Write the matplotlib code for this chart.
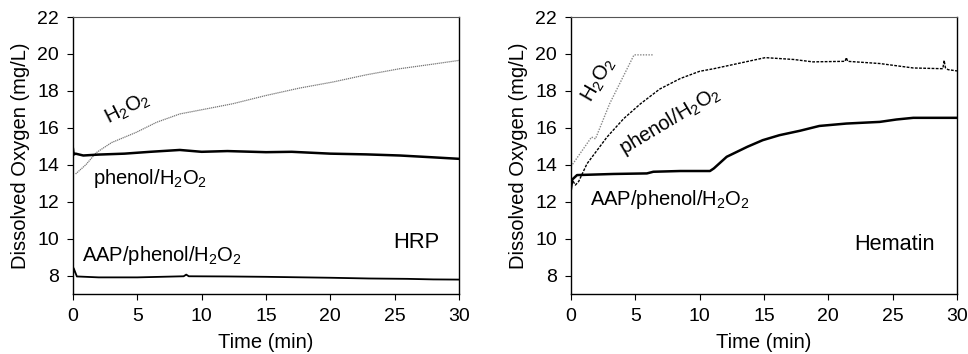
import matplotlib.pyplot as plt

plt.rcParams['font.family'] = ['Liberation Sans', 'DejaVu Sans']
plt.rcParams['mathtext.fontset'] = 'custom'
plt.rcParams['mathtext.rm'] = 'Liberation Sans'
plt.rcParams['mathtext.it'] = 'Liberation Sans'

# HRP panel
hrp_h2o2_t = [0.2, 1.0, 1.8, 3.0, 4.9, 6.5, 8.3, 9.8, 12.4, 15.0, 17.6, 20.2, 22.8, 25.4, 28.0, 30.0]
hrp_h2o2_y = [13.5, 14.0, 14.65, 15.2, 15.75, 16.3, 16.75, 16.95, 17.3, 17.75, 18.15, 18.48, 18.87, 19.2, 19.45, 19.65]

hrp_phenol_t = [0.0, 0.05, 0.2, 0.8, 2.0, 4.0, 6.0, 8.3, 10.0, 12.0, 15.0, 17.0, 20.0, 22.8, 25.4, 28.0, 30.0]
hrp_phenol_y = [14.85, 14.55, 14.6, 14.5, 14.55, 14.6, 14.7, 14.8, 14.7, 14.74, 14.68, 14.7, 14.6, 14.56, 14.5, 14.4, 14.32]

hrp_aap_t = [0.0, 0.05, 0.3, 2.0, 5.0, 8.6, 8.8, 9.0, 12.0, 15.0, 18.0, 20.0, 23.0, 26.0, 28.0, 30.0]
hrp_aap_y = [8.0, 8.4, 7.95, 7.9, 7.9, 7.96, 8.05, 7.96, 7.95, 7.93, 7.9, 7.88, 7.84, 7.82, 7.79, 7.78]

# Hematin panel
hem_h2o2_t = [0.0, 0.7, 1.6, 1.9, 3.0, 4.9, 6.4]
hem_h2o2_y = [13.9, 14.6, 15.5, 15.4, 17.3, 19.95, 19.95]

hem_phenol_t = [0.0, 0.34, 0.6, 1.24, 2.8, 4.1, 5.4, 6.9, 8.5, 10.0, 11.1, 13.1, 15.1, 17.3, 18.8, 21.3, 21.4, 21.5,
                24.0, 26.6, 28.9, 29.0, 29.1, 29.3, 30.0]
hem_phenol_y = [13.3, 12.9, 13.1, 14.05, 15.5, 16.5, 17.3, 18.1, 18.67, 19.06, 19.2, 19.5, 19.8, 19.7, 19.57, 19.6, 19.8, 19.6,
                19.48, 19.24, 19.2, 19.65, 19.25, 19.15, 19.08]

hem_aap_t = [0.0, 0.1, 0.47, 3.3, 5.9, 6.4, 8.5, 10.8, 11.1, 12.1, 13.7, 14.9, 16.2, 17.8, 19.3, 21.4, 24.0, 25.3, 26.6, 30.0]
hem_aap_y = [12.7, 13.2, 13.44, 13.5, 13.53, 13.62, 13.66, 13.66, 13.8, 14.43, 14.97, 15.33, 15.6, 15.84, 16.1, 16.23, 16.32, 16.45, 16.54, 16.54]

h2o2 = r'H$_2$O$_2$'
fs = 14.5

fig = plt.figure(figsize=(9.68, 3.54), dpi=100)
ax1 = fig.add_axes([73 / 968, 60 / 354, 386 / 968, 277 / 354])
ax2 = fig.add_axes([571 / 968, 60 / 354, 386 / 968, 277 / 354])

ax1.plot(hrp_h2o2_t, hrp_h2o2_y, color='#777777', lw=0.9, ls=(0, (1, 0.6)))
ax1.plot(hrp_phenol_t, hrp_phenol_y, color='black', lw=1.8)
ax1.plot(hrp_aap_t, hrp_aap_y, color='black', lw=1.3)

ax1.text(4.27, 17.03, h2o2, rotation=27, ha='center', va='center', fontsize=fs)
ax1.text(1.55, 13.24, 'phenol/' + h2o2, ha='left', va='center', fontsize=fs)
ax1.text(0.73, 9.08, 'AAP/phenol/' + h2o2, ha='left', va='center', fontsize=fs)
ax1.text(24.9, 9.8, 'HRP', ha='left', va='center', fontsize=15.8)

ax2.plot(hem_h2o2_t, hem_h2o2_y, color='#888888', lw=1.0, ls=(0, (1, 1)))
ax2.plot(hem_phenol_t, hem_phenol_y, color='black', lw=1.0, ls=(0, (2, 1)))
ax2.plot(hem_aap_t, hem_aap_y, color='black', lw=1.8)

ax2.text(2.15, 18.58, h2o2, rotation=60, ha='center', va='center', fontsize=fs)
ax2.text(7.7, 16.4, 'phenol/' + h2o2, rotation=31, ha='center', va='center', fontsize=fs)
ax2.text(1.45, 12.1, 'AAP/phenol/' + h2o2, ha='left', va='center', fontsize=fs)
ax2.text(22.0, 9.66, 'Hematin', ha='left', va='center', fontsize=15.6)

for ax in (ax1, ax2):
    ax.set_xlim(0, 30)
    ax.set_ylim(7, 22)
    ax.set_xticks(range(0, 31, 5))
    ax.set_yticks(range(8, 23, 2))
    ax.tick_params(direction='out', length=4, width=0.8, labelsize=14, pad=6, top=False, right=False)
    ax.set_xlabel('Time (min)', fontsize=fs, labelpad=6)
    ax.set_ylabel('Dissolved Oxygen (mg/L)', fontsize=fs, labelpad=5)
    for side in ('left', 'bottom', 'right'):
        ax.spines[side].set_linewidth(1.0)
    ax.spines['top'].set_color('#555555')
    ax.spines['top'].set_linewidth(0.8)

fig.savefig('out.png', dpi=100)
